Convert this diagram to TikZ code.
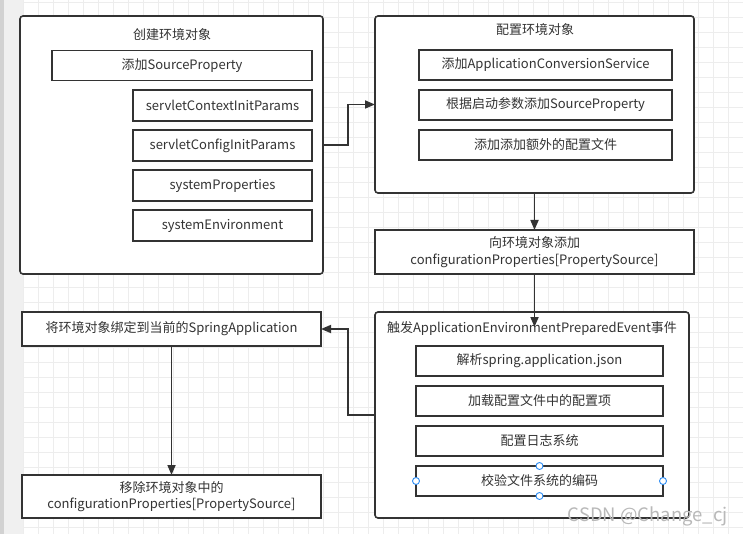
\documentclass[tikz,border=0pt]{standalone}
\usepackage{fontspec}
\setmainfont{Noto Sans CJK SC}
\usetikzlibrary{positioning, arrows.meta, calc}
\definecolor{linegray}{HTML}{333333}
\definecolor{gridgray}{HTML}{EDEDED}
\definecolor{stripgray}{HTML}{F0F0F0}
\definecolor{handleblue}{HTML}{2C8CF4}
\tikzset{
  group box/.style={draw=linegray, line width=1.6pt, rounded corners=3pt, fill=white, outer sep=0pt},
  itembox/.style={draw=linegray, line width=1.6pt, fill=white, outer sep=0pt, inner sep=0pt,
    text=linegray, align=center, font=\fontsize{13}{16.5}\selectfont},
  title text/.style={text=linegray, inner sep=0pt, font=\fontsize{13}{16.5}\selectfont},
  flow/.style={draw=linegray, line width=1.7pt, -{Triangle[length=10pt,width=8pt]}},
  handle/.style={circle, draw=handleblue, fill=white, line width=0.9pt, minimum size=7pt, inner sep=0pt},
}

\begin{document}
\begin{tikzpicture}[x=1pt, y=-1pt]
  % Canvas
  \useasboundingbox (0,0) rectangle (743,534);
  \fill[white] (0,0) rectangle (743,534);
  \foreach \gx in {23.3,38.3,...,743}
    \draw[gridgray, line width=0.8pt] (\gx,0) -- (\gx,534);
  \foreach \gy in {2,17,...,534}
    \draw[gridgray, line width=0.8pt] (23,\gy) -- (743,\gy);
  \fill[stripgray] (0,0) rectangle (23,534);
  \fill[gray!35] (0,0) rectangle (4,534);

  % Create environment
  \node[group box, minimum width=303pt, minimum height=258pt] (create) at (171.5,145) {};
  \node[title text] (createtitle) at (172,35) {创建环境对象};
  \node[itembox, minimum width=260pt, minimum height=30pt] (addsrc) at (182,65.5) {添加SourceProperty};
  \node[itembox, minimum width=179pt, minimum height=31pt] (ctxparams) at (222.5,105.5) {servletContextInitParams};
  \node[itembox, minimum width=179pt, minimum height=31pt, below=9pt of ctxparams] (cfgparams) {servletConfigInitParams};
  \node[itembox, minimum width=179pt, minimum height=31pt, below=9pt of cfgparams] (sysprops) {systemProperties};
  \node[itembox, minimum width=179pt, minimum height=31pt, below=9pt of sysprops] (sysenv) {systemEnvironment};

  % Configure environment
  \node[group box, minimum width=319pt, minimum height=177pt] (config) at (534.5,104.5) {};
  \node[title text] (configtitle) at (535,30) {配置环境对象};
  \node[itembox, minimum width=253pt, minimum height=30pt] (convsvc) at (545.5,65) {添加ApplicationConversionService};
  \node[itembox, minimum width=253pt, minimum height=30pt, below=10pt of convsvc] (argsrc) {根据启动参数添加SourceProperty};
  \node[itembox, minimum width=253pt, minimum height=30pt, below=10pt of argsrc] (extrafile) {添加添加额外的配置文件};

  % Attach configurationProperties
  \node[itembox, minimum width=319pt, minimum height=44pt] (attach) at (534.5,252)
    {向环境对象添加\\configurationProperties[PropertySource]};

  % Prepared event
  \node[group box, minimum width=314pt, minimum height=206pt] (event) at (532,415) {};
  \node[title text] (eventtitle) at (532,329) {触发ApplicationEnvironmentPreparedEvent事件};
  \node[itembox, minimum width=247pt, minimum height=30pt] (parsejson) at (539.5,361) {解析spring.application.json};
  \node[itembox, minimum width=247pt, minimum height=30pt, below=10pt of parsejson] (loadcfg) {加载配置文件中的配置项};
  \node[itembox, minimum width=247pt, minimum height=30pt, below=10pt of loadcfg] (logsys) {配置日志系统};
  \node[itembox, minimum width=247pt, minimum height=30pt, below=10pt of logsys] (encoding) {校验文件系统的编码};
  \node[handle] (hn) at (encoding.north) {};
  \node[handle] (hs) at (encoding.south) {};
  \node[handle] (hw) at (encoding.west) {};
  \node[handle] (he) at (encoding.east) {};

  % Left column
  \node[itembox, minimum width=299pt, minimum height=34pt] (bind) at (171.5,329) {将环境对象绑定到当前的SpringApplication};
  \node[itembox, minimum width=299pt, minimum height=43pt] (detach) at (171.5,496.5)
    {移除环境对象中的\\configurationProperties[PropertySource]};

  % Arrows
  \coordinate (eventtip) at (534.5,327);
  \draw[flow] (create.east) -- ++(25,0) |- (config.west);
  \draw[flow] (config.south) -- (attach.north);
  \draw[flow] (attach.south) -- (eventtip);
  \draw[flow] (event.west) -- ++(-27,0) |- (bind.east);
  \draw[flow] (bind.south) -- (detach.north);

  % Watermark
  \node[anchor=base east, text=gray!55, inner sep=0pt, font=\fontsize{18.5}{18.5}\selectfont] (mark) at (728,521) {CSDN @Change\_cj};
\end{tikzpicture}
\end{document}
